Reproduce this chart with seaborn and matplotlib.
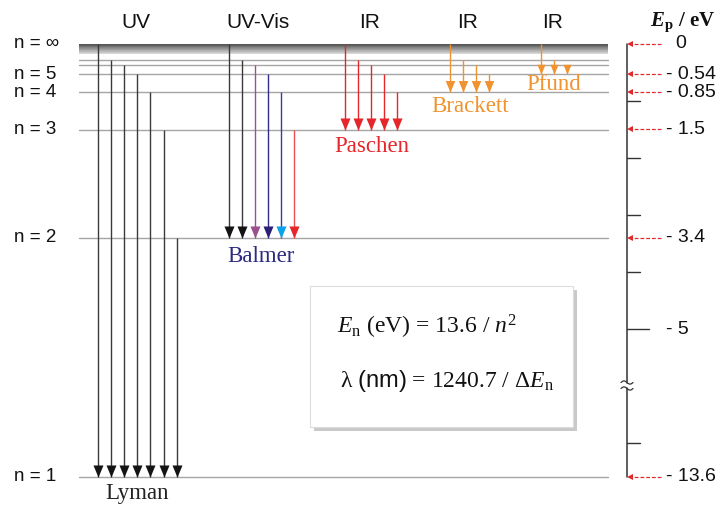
import numpy as np
import pandas as pd
import matplotlib
matplotlib.use("Agg")
import matplotlib.pyplot as plt
import seaborn as sns
from matplotlib.patches import Rectangle

# ---------------- data ----------------
level_keys = [1, 2, 3, 4, 5, 6, 7, "inf"]
level_E = [-13.6, -3.4, -1.51, -0.85, -0.54, -0.38, -0.28, 0.0]
level_label_keys = [1, 2, 3, 4, 5, "inf"]
level_label_text = ["n = 1", "n = 2", "n = 3", "n = 4", "n = 5", "n = ∞"]

series_names = ["Lyman", "Balmer", "Paschen", "Brackett", "Pfund"]
series_lower = [1, 2, 3, 4, 5]
lyman_upper = ["inf", 7, 6, 5, 4, 3, 2]
balmer_upper = ["inf", 7, 6, 5, 4, 3]
paschen_upper = ["inf", 7, 6, 5, 4]
brackett_upper = ["inf", 7, 6, 5]
pfund_upper = ["inf", 7, 6]
series_upper = [lyman_upper, balmer_upper, paschen_upper, brackett_upper, pfund_upper]
region_labels = ["UV", "UV-Vis", "IR", "IR", "IR"]

scale_labels = ["0", "- 0.54", "- 0.85", "- 1.5", "- 3.4", "- 13.6"]
scale_E = [0.0, -0.54, -0.85, -1.5, -3.4, -13.6]
minor_ticks = [-1, -2, -3, -4, -13]
major_ticks = [-5]
major_labels = ["- 5"]

formula1 = r"$E_\mathrm{n}$ (eV) = 13.6 / $n^2$"
formula2 = r"λ $\mathsf{(nm)}$ = 1240.7 / Δ$E_\mathrm{n}$"
axis_title = r"$\mathbfit{E}_\mathbf{p}$ / eV"

# ---------------- styles / layout ----------------
E_of = dict(zip(level_keys, level_E))
series_x0 = [98, 228.5, 345, 450, 540.5]
dx = 13.1
black_l = "#3a3a3a"
black_h = "#141414"
red = "#e5262a"
orange = "#f0932f"
series_line_colors = [
    [black_l] * 7,
    [black_l, black_l, "#9b4f96", "#332a8c", "#3b3ba8", "#ec5050"],
    [red] * 5,
    [orange] * 4,
    [orange] * 3,
]
series_head_colors = [
    [black_h] * 7,
    [black_h, black_h, "#9b4f8e", "#2b1f7a", "#0aa2e8", red],
    [red] * 5,
    [orange] * 4,
    [orange] * 3,
]
series_head_ms = [17.3, 17.3, 17.3, 16.5, 14]
series_label_colors = ["#222222", "#2b2a80", red, orange, orange]
series_label_pos = [(137.5, 494), (261, 256), (372, 146), (470, 107), (554, 84)]
region_label_pos = [(136, 23), (258, 23), (370, 23), (468, 23), (553, 23)]

sns.set_theme(style="white")
plt.rcParams["font.family"] = ["Liberation Sans", "DejaVu Sans"]
plt.rcParams["mathtext.fontset"] = "custom"
plt.rcParams["mathtext.rm"] = "Liberation Serif"
plt.rcParams["mathtext.it"] = "Liberation Serif:italic"
plt.rcParams["mathtext.bf"] = "Liberation Serif:bold"
plt.rcParams["mathtext.sf"] = "Liberation Sans"
plt.rcParams["mathtext.bfit"] = "Liberation Serif:italic:bold"

W, H = 720, 507
fig = plt.figure(figsize=(W / 100, H / 100), dpi=100)
ax = fig.add_axes([0, 0, 1, 1])


def fwd(e):
    return np.interp(e, [-1000, -12.0, -5.97, 1000], [-993.98, -5.98, -5.97, 1000])


def inv(v):
    return np.interp(v, [-993.98, -5.98, -5.97, 1000], [-1000, -12.0, -5.97, 1000])


ax.set_yscale("function", functions=(fwd, inv))


def fx(px):
    return px / W


def fy(py):
    return 1 - py / H


# gradient band for n -> infinity
band_bottom = -0.18
nstrip = 24
edges = np.linspace(0.0, band_bottom, nstrip + 1)
for i in range(nstrip):
    t = i / (nstrip - 1)
    g = 0.27 + 0.58 * t ** 0.9
    ax.fill_between([79, 608], edges[i + 1], edges[i], color=(g, g, g), lw=0, zorder=1)

# level lines via seaborn
rows = []
for k in level_keys:
    if k == "inf":
        continue
    rows.append({"x": 79, "E": E_of[k], "n": str(k)})
    rows.append({"x": 608, "E": E_of[k], "n": str(k)})
df_levels = pd.DataFrame(rows)
sns.lineplot(data=df_levels, x="x", y="E", units="n", estimator=None, sort=False,
             color="#a5a5a5", lw=1.0, ax=ax, legend=False, zorder=2)

# arrowhead marker with tip at origin
head_marker = [(-0.5, 1.2), (0.5, 1.2), (0.0, 0.0), (-0.5, 1.2)]

for i, (name, low, ups) in enumerate(zip(series_names, series_lower, series_upper)):
    e_low = E_of[low]
    for j, up in enumerate(ups):
        x = series_x0[i] + j * dx
        ax.plot([x, x], [E_of[up], e_low], color=series_line_colors[i][j], lw=1.0,
                solid_capstyle="butt", zorder=3)
        ax.plot([x], [e_low], marker=head_marker, ms=series_head_ms[i],
                color=series_head_colors[i][j], mew=0, zorder=4)
    lx, ly = series_label_pos[i]
    ax.text(fx(lx), fy(ly), name, transform=ax.transAxes, ha="center", va="center",
            fontsize=16.5, family=["Liberation Serif", "DejaVu Serif"],
            color=series_label_colors[i])

for lab, (rx, ry) in zip(region_labels, region_label_pos):
    ax.text(fx(rx), fy(ry), lab, transform=ax.transAxes, ha="center", va="center",
            fontsize=15, color="#111111")

for k, lab in zip(level_label_keys, level_label_text):
    ax.text(14, E_of[k], lab, ha="left", va="center", fontsize=13.5, color="#111111")

# right-hand energy scale (broken between -5.94 and -12.04)
axis_x = 627
ax.plot([axis_x, axis_x], [0.0, -5.937], color="#333333", lw=1.1, zorder=3)
ax.plot([axis_x, axis_x], [-12.044, -13.6], color="#333333", lw=1.1, zorder=3)
for t in minor_ticks:
    ax.plot([axis_x, 640], [t, t], color="#333333", lw=1.0)
for t, lab in zip(major_ticks, major_labels):
    ax.plot([axis_x, 649], [t, t], color="#333333", lw=1.0)
    ax.text(666, t, lab, ha="left", va="center", fontsize=14, color="#111111")
for e, lab in zip(scale_E, scale_labels):
    ax.plot([661, 631], [e, e], color="#e02a2a", lw=0.9, ls=(0, (3, 1.6)), zorder=3)
    ax.plot([630], [e], marker="<", ms=4, color="#e02a2a", mew=0, zorder=4)
    if lab == "0":
        ax.text(681, e, lab, ha="center", va="center", fontsize=14, color="#111111")
    else:
        ax.text(666, e, lab, ha="left", va="center", fontsize=14, color="#111111")
# break mark: two small tildes
tt = np.linspace(0, 1, 30)
for yc in (382.5, 388.5):
    xs = 621 + 12 * tt
    ys = yc - 1.6 * np.sin(2 * np.pi * tt)
    ax.plot(fx(xs), fy(ys), transform=ax.transAxes, color="#333333", lw=0.9, zorder=5)

ax.text(fx(715), fy(22), axis_title, transform=ax.transAxes, ha="right", va="center",
        fontsize=15, fontweight="bold", family=["Liberation Serif", "DejaVu Serif"],
        color="#111111")

# formula box with shadow
bx0, by0, bx1, by1 = 310, 286, 573, 427
ax.add_patch(Rectangle((fx(bx0 + 4), fy(by1 + 4)), fx(bx1 - bx0), (by1 - by0) / H,
                       transform=ax.transAxes, fc="#c9c9c9", ec="none", zorder=5))
ax.add_patch(Rectangle((fx(bx0), fy(by1)), fx(bx1 - bx0), (by1 - by0) / H,
                       transform=ax.transAxes, fc="white", ec="#dcdcdc", lw=0.8, zorder=6))
ax.text(fx(337), fy(327), formula1, transform=ax.transAxes, ha="left", va="center",
        fontsize=17, family=["Liberation Serif", "DejaVu Serif"], color="#111111", zorder=7)
ax.text(fx(340), fy(381), formula2, transform=ax.transAxes, ha="left", va="center",
        fontsize=17, family=["Liberation Serif", "DejaVu Serif"], color="#111111", zorder=7)

ax.set_xlim(0, W)
ax.set_ylim(-14.126, 0.763)
ax.axis("off")
fig.savefig("out.png", dpi=100)
